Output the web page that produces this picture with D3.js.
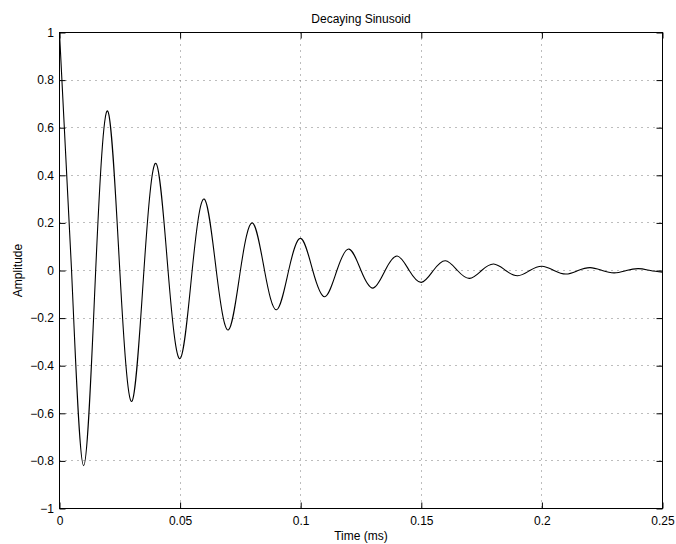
<!DOCTYPE html>
<html>
<head>
<meta charset="utf-8">
<script src="https://cdn.jsdelivr.net/npm/d3@7"></script>
<style>
  html, body { margin: 0; padding: 0; background: #fff; }
  svg { display: block; }
  text { font-family: "Liberation Sans", Arial, Helvetica, sans-serif; font-size: 12px; fill: #000; }
</style>
</head>
<body>
<svg id="chart" width="676" height="544"></svg>
<script>
// Sample times (ms) at the peaks, troughs and zero crossings of the trace
const times = [
  0, 0.005, 0.01, 0.015, 0.02, 0.025, 0.03, 0.035, 0.04, 0.045,
  0.05, 0.055, 0.06, 0.065, 0.07, 0.075, 0.08, 0.085, 0.09, 0.095,
  0.10, 0.105, 0.11, 0.115, 0.12, 0.125, 0.13, 0.135, 0.14, 0.145,
  0.15, 0.155, 0.16, 0.165, 0.17, 0.175, 0.18, 0.185, 0.19, 0.195,
  0.20, 0.205, 0.21, 0.215, 0.22, 0.225, 0.23, 0.235, 0.24, 0.245, 0.25
];
// Amplitude at each of those times
const amplitude = [
  1.00, 0, -0.82, 0, 0.67, 0, -0.55, 0, 0.45, 0,
  -0.37, 0, 0.30, 0, -0.25, 0, 0.20, 0, -0.165, 0,
  0.135, 0, -0.11, 0, 0.09, 0, -0.074, 0, 0.061, 0,
  -0.050, 0, 0.041, 0, -0.033, 0, 0.027, 0, -0.022, 0,
  0.018, 0, -0.015, 0, 0.012, 0, -0.010, 0, 0.008, 0, -0.007
];
const xTicks = [0, 0.05, 0.1, 0.15, 0.2, 0.25];
const yTicks = [-1, -0.8, -0.6, -0.4, -0.2, 0, 0.2, 0.4, 0.6, 0.8, 1];
const titleText = "Decaying Sinusoid";
const xLabel = "Time (ms)";
const yLabel = "Amplitude";

const svg = d3.select("#chart");
const L = 59.5, R = 662.5, T = 32.5, B = 508.5;

const x = d3.scaleLinear().domain([0, 0.25]).range([L, R]);
const y = d3.scaleLinear().domain([-1, 1]).range([B, T]);

const fmt = v => {
  const s = d3.format("~g")(Math.abs(v) < 1e-12 ? 0 : v);
  return s.replace("-", "\u2212");
};

// dotted grid
const grid = svg.append("g").attr("stroke", "#7a7a7a").attr("stroke-width", 1)
  .attr("stroke-dasharray", "1,5").attr("fill", "none");
xTicks.slice(1, -1).forEach(t => {
  const px = Math.round(x(t) - 0.5) + 0.5;
  grid.append("line").attr("x1", px).attr("x2", px).attr("y1", T).attr("y2", B);
});
yTicks.slice(1, -1).forEach(t => {
  const py = Math.round(y(t) - 0.5) + 0.5;
  grid.append("line").attr("x1", L).attr("x2", R).attr("y1", py).attr("y2", py);
});

// signal trace
const pts = times.map((t, i) => [t, amplitude[i]]);
const line = d3.line().x(d => x(d[0])).y(d => y(d[1])).curve(d3.curveNatural);
svg.append("defs").append("clipPath").attr("id", "plotclip")
  .append("rect").attr("x", L).attr("y", T - 1).attr("width", R - L).attr("height", B - T + 2);
svg.append("path").datum(pts).attr("d", line)
  .attr("fill", "none").attr("stroke", "#000").attr("stroke-width", 1.1)
  .attr("clip-path", "url(#plotclip)");

// axes with inward ticks on all four sides
const tickLen = 6;
const xb = svg.append("g").attr("transform", `translate(0,${B})`)
  .call(d3.axisBottom(x).tickValues(xTicks).tickFormat(fmt).tickSizeInner(-tickLen).tickSizeOuter(0).tickPadding(10));
const xt = svg.append("g").attr("transform", `translate(0,${T})`)
  .call(d3.axisTop(x).tickValues(xTicks).tickFormat("").tickSizeInner(-tickLen).tickSizeOuter(0));
const yl = svg.append("g").attr("transform", `translate(${L},0)`)
  .call(d3.axisLeft(y).tickValues(yTicks).tickFormat(fmt).tickSizeInner(-tickLen).tickSizeOuter(0).tickPadding(6));
const yr = svg.append("g").attr("transform", `translate(${R},0)`)
  .call(d3.axisRight(y).tickValues(yTicks).tickFormat("").tickSizeInner(-tickLen).tickSizeOuter(0));

[xb, xt, yl, yr].forEach(g => {
  g.selectAll(".domain").remove();
  g.selectAll(".tick line").attr("stroke", "#000").attr("stroke-width", 1);
  g.selectAll("text").attr("font-family", null).attr("font-size", null).attr("fill", "#000");
});
yl.selectAll(".tick text").attr("x", -5.5);
xb.selectAll(".tick text").attr("dy", null).attr("y", 16);

// box
svg.append("rect").attr("x", L).attr("y", T).attr("width", R - L).attr("height", B - T)
  .attr("fill", "none").attr("stroke", "#000").attr("stroke-width", 1);

// labels
svg.append("text").attr("x", (L + R) / 2).attr("y", 23).attr("text-anchor", "middle").text(titleText);
svg.append("text").attr("x", (L + R) / 2).attr("y", 540).attr("text-anchor", "middle").text(xLabel);
svg.append("text").attr("transform", `translate(21.5,${(T + B) / 2}) rotate(-90)`)
  .attr("text-anchor", "middle").text(yLabel);
</script>
</body>
</html>
